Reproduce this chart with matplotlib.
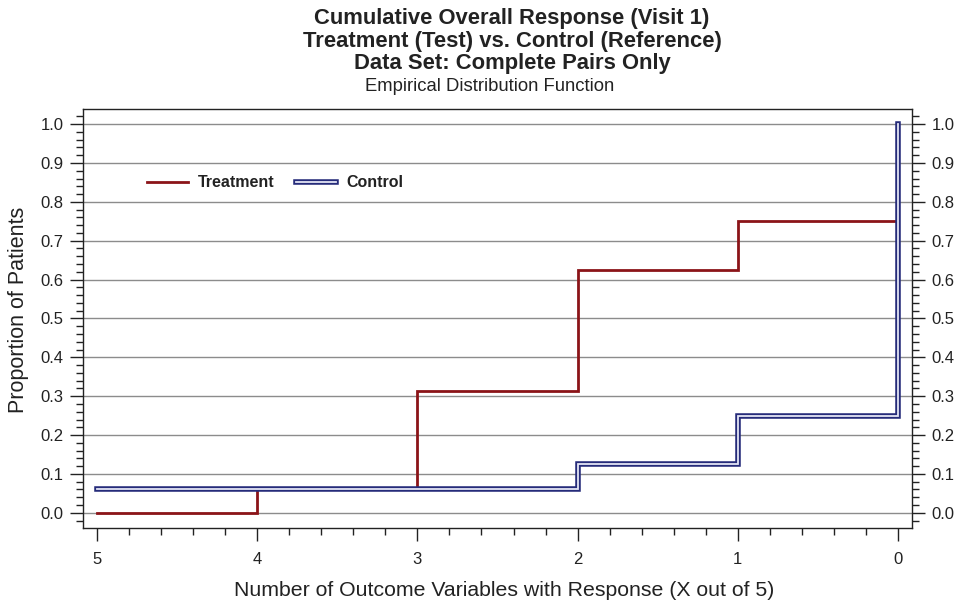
import numpy as np
import matplotlib.pyplot as plt
from matplotlib.ticker import MultipleLocator

plt.rcParams['font.family'] = ['Liberation Sans', 'DejaVu Sans']

x_resp = [5, 4, 3, 2, 1, 0] # number of outcome variables with response
treatment = [0.0, 0.0625, 0.3125, 0.625, 0.75, 1.0]
control = [0.0625, 0.0625, 0.0625, 0.125, 0.25, 1.0]
yticks = [0.0, 0.1, 0.2, 0.3, 0.4, 0.5, 0.6, 0.7, 0.8, 0.9, 1.0]

red = '#8b1418'
navy = '#262c7a'
inner = '#e4e6f6'

fig = plt.figure(figsize=(9.59, 6.02), dpi=100)
ax = fig.add_axes([0.0865, 0.123, 0.8645, 0.696])

for yv in yticks:
    ax.axhline(yv, color='#8c8c8c', lw=1.0, zorder=1)

ax.step(x_resp, treatment, where='post', color=red, lw=2.0, zorder=3,
        solid_joinstyle='miter')
# control drawn as a double line: dark outer, light inner
ax.step(x_resp, control, where='post', color=navy, lw=4.0, zorder=4,
        solid_joinstyle='miter', solid_capstyle='projecting')
ax.step(x_resp, control, where='post', color=inner, lw=1.3, zorder=5,
        solid_joinstyle='miter')

# legend drawn by hand to match the original layout
ax.plot([4.69, 4.43], [0.85, 0.85], color=red, lw=2.0, zorder=3)
ax.text(4.37, 0.85, 'Treatment', fontsize=11.5, fontweight='bold', va='center', color='#222222')
ax.plot([3.76, 3.51], [0.85, 0.85], color=navy, lw=4.0, zorder=4, solid_capstyle='projecting')
ax.plot([3.76, 3.51], [0.85, 0.85], color=inner, lw=1.3, zorder=5)
ax.text(3.44, 0.85, 'Control', fontsize=11.5, fontweight='bold', va='center', color='#222222')

ax.set_xlim(5.087, -0.087)
ax.set_ylim(-0.039, 1.039)
ax.set_xticks(x_resp)
ax.set_xticklabels([str(v) for v in x_resp])
ax.xaxis.set_minor_locator(MultipleLocator(0.2))
ax.set_yticks(yticks)
ax.set_yticklabels(['%.1f' % v for v in yticks])
ax.yaxis.set_minor_locator(MultipleLocator(0.02))

ax.tick_params(axis='both', which='major', direction='out', length=9.5, width=1.0,
               labelsize=12, pad=4.5, color='#222222', labelcolor='#222222')
ax.tick_params(axis='both', which='minor', direction='out', length=4.8, width=1.0, color='#222222')
ax.tick_params(axis='x', which='major', pad=8)
ax.tick_params(axis='y', which='both', left=True, right=True, labelleft=True, labelright=True)
ax.tick_params(axis='x', which='both', top=False)
for s in ax.spines.values():
    s.set_color('#222222')
    s.set_linewidth(1.0)

ax.set_xlabel('Number of Outcome Variables with Response (X out of 5)', fontsize=15.3,
              color='#222222', labelpad=10)
ax.set_ylabel('Proportion of Patients', fontsize=15.5, color='#222222', labelpad=8)
ax.xaxis.label.set_x(0.508)
ax.yaxis.label.set_y(0.521)

fig.text(0.534, 0.97, 'Cumulative Overall Response (Visit 1)', ha='center', va='center',
         fontsize=15.8, fontweight='bold', color='#222222')
fig.text(0.534, 0.931, 'Treatment (Test) vs. Control (Reference)', ha='center', va='center',
         fontsize=15.8, fontweight='bold', color='#222222')
fig.text(0.534, 0.894, 'Data Set: Complete Pairs Only', ha='center', va='center',
         fontsize=15.8, fontweight='bold', color='#222222')
fig.text(0.511, 0.857, 'Empirical Distribution Function', ha='center', va='center',
         fontsize=13.3, color='#222222')

fig.savefig('out.png', dpi=100)
